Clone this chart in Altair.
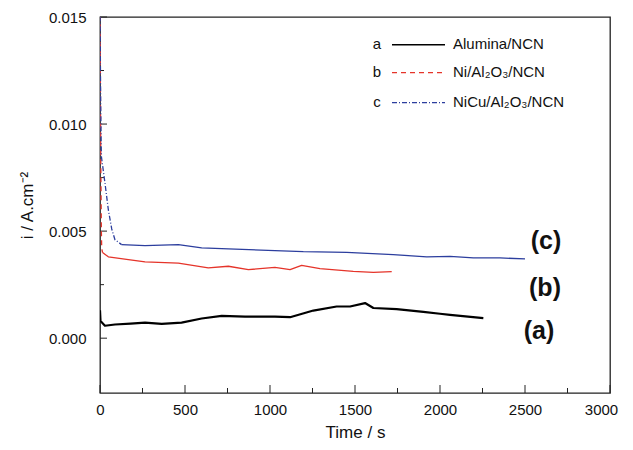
import altair as alt
import pandas as pd

# ---- data ----
t_a = [0, 3, 29, 88, 180, 265, 363, 480, 598, 716, 853, 1029, 1118, 1255, 1392, 1471, 1559, 1608, 1745, 1902, 2000, 2059, 2255]
i_a = [0.0013, 0.0008, 0.00058, 0.00064, 0.00068, 0.00073, 0.00067, 0.00073, 0.00092, 0.00104, 0.00101, 0.00101,
       0.00098, 0.00129, 0.00148, 0.00148, 0.00164, 0.00141, 0.00136, 0.00123, 0.00114, 0.00109, 0.00094]

t_b = [0, 4, 8, 10, 15, 49, 167, 265, 461, 637, 755, 873, 1029, 1118, 1186, 1294, 1490, 1608, 1716]
i_b = [0.0155, 0.009, 0.0050, 0.0042, 0.0040, 0.0038, 0.00367, 0.00356, 0.00351, 0.00328, 0.00336, 0.0032,
       0.00331, 0.0032, 0.0034, 0.00325, 0.00312, 0.00307, 0.00311]

t_c = [0, 4, 8, 29, 49, 69, 88, 127, 265, 461, 598, 755, 1029, 1196, 1451, 1725, 1922, 2059, 2196, 2353, 2500]
i_c = [0.0155, 0.0110, 0.0085, 0.00726, 0.006, 0.0051, 0.0046, 0.00437, 0.00432, 0.00437, 0.00422, 0.00417,
       0.00409, 0.00404, 0.00401, 0.0039, 0.0038, 0.00382, 0.00375, 0.00375, 0.0037]

x_major = [0, 500, 1000, 1500, 2000, 2500, 3000]
x_minor = [250, 750, 1250, 1750, 2250, 2750]
y_major = [0.0, 0.005, 0.010, 0.015]
y_minor = [0.0025, 0.0075, 0.0125]

letters = ["a", "b", "c"]
labels = ["Alumina/NCN", "Ni/Al\u2082O\u2083/NCN", "NiCu/Al\u2082O\u2083/NCN"]
tags = ["(a)", "(b)", "(c)"]

# ---- layout constants ----
W, H = 510, 376
FONT = "Liberation Sans"
RED = "#e5342a"
BLUE = "#2c3e9e"

xs = alt.Scale(domain=[0, 3000], nice=False, zero=False)
ys = alt.Scale(domain=[-0.00256, 0.015], nice=False, zero=False)

X_AXIS = alt.Axis(values=x_major, format="d", ticks=False, domain=False, grid=False,
                  labelFlush=False, labelOverlap=False,
                  labelOffset={"expr": "datum.value == 3000 ? -9 : 0"},
                  labelPadding=9, titlePadding=7, labelFontSize=15, titleFontSize=17,
                  labelFont=FONT, titleFont=FONT, labelColor="#111", titleColor="#111",
                  titleFontWeight="normal")
Y_AXIS = alt.Axis(values=y_major, format=".3f", ticks=False, domain=False, grid=False,
                  labelFlush=False, labelOverlap=False,
                  labelPadding=14, titlePadding=12, labelFontSize=15, titleFontSize=17,
                  labelFont=FONT, titleFont=FONT, labelColor="#111", titleColor="#111",
                  titleFontWeight="normal")
X_TITLE = "Time / s"
Y_TITLE = "i / A.cm\u207b\u00b2"


def X():
    return alt.X("t:Q", scale=xs, axis=X_AXIS, title=X_TITLE)


def Y():
    return alt.Y("i:Q", scale=ys, axis=Y_AXIS, title=Y_TITLE)


def series(t, v, lo=None, hi=None):
    df = pd.DataFrame({"t": t, "i": v})
    if lo is not None:
        df = df[df.t >= lo]
    if hi is not None:
        df = df[df.t <= hi]
    return df


def line(df, color, width, dash=None):
    kw = dict(color=color, strokeWidth=width, clip=True, strokeJoin="round")
    if dash:
        kw["strokeDash"] = dash
    return alt.Chart(df).mark_line(**kw).encode(x=X(), y=Y())


layers = []

# inward ticks
def xticks(vals, size):
    return alt.Chart(pd.DataFrame({"t": vals})).mark_rule(color="#222", strokeWidth=1).encode(
        x=X(), y=alt.value(H), y2=alt.value(H - size))


def yticks(vals, size):
    return alt.Chart(pd.DataFrame({"i": vals})).mark_rule(color="#222", strokeWidth=1).encode(
        y=Y(), x=alt.value(0), x2=alt.value(size))


layers += [xticks(x_major, 8), xticks(x_minor, 5), yticks(y_major, 7), yticks(y_minor, 4)]

# data lines
layers += [
    line(series(t_b, i_b, hi=15), RED, 1.3, [5, 4]),
    line(series(t_b, i_b, lo=15), RED, 1.3),
    line(series(t_c, i_c, hi=127), BLUE, 1.3, [5, 2, 1, 2]),
    line(series(t_c, i_c, lo=127), BLUE, 1.3),
    line(series(t_a, i_a), "#000000", 2.2),
]

# legend
rows_y = [27.7, 55.7, 85.7]
colors = ["#000000", RED, BLUE]
dashes = [None, [5, 4], [5, 2, 1, 2]]
widths = [1.5, 1.2, 1.2]
for k in range(3):
    one = pd.DataFrame({"letter": [letters[k]], "label": [labels[k]]})
    c = alt.Chart(one)
    layers.append(c.mark_text(font=FONT, fontSize=15, align="center", baseline="middle", color="#111").encode(
        text="letter:N", x=alt.value(277), y=alt.value(rows_y[k] - 1)))
    rk = dict(color=colors[k], strokeWidth=widths[k])
    if dashes[k]:
        rk["strokeDash"] = dashes[k]
    layers.append(c.mark_rule(**rk).encode(x=alt.value(292), x2=alt.value(345), y=alt.value(rows_y[k])))
    layers.append(c.mark_text(font=FONT, fontSize=15, align="left", baseline="middle", color="#111").encode(
        text="label:N", x=alt.value(353), y=alt.value(rows_y[k] - 1)))

# curve tags
tag_x = [439, 445, 446]
tag_y = [314, 271, 224]
for k in range(3):
    one = pd.DataFrame({"tag": [tags[k]]})
    layers.append(alt.Chart(one).mark_text(font=FONT, fontSize=25, fontWeight="bold", align="center",
                                           baseline="middle", color="#111").encode(
        text="tag:N", x=alt.value(tag_x[k]), y=alt.value(tag_y[k])))

chart = alt.layer(*layers).properties(
    width=W, height=H,
    background="white",
    autosize=alt.AutoSizeParams(type="none"),
    padding={"left": 92, "top": 9, "right": 15, "bottom": 49},
).configure_view(stroke="#222", strokeWidth=1.3)

chart.save("out.html", embed_options={"renderer": "svg", "actions": False})
